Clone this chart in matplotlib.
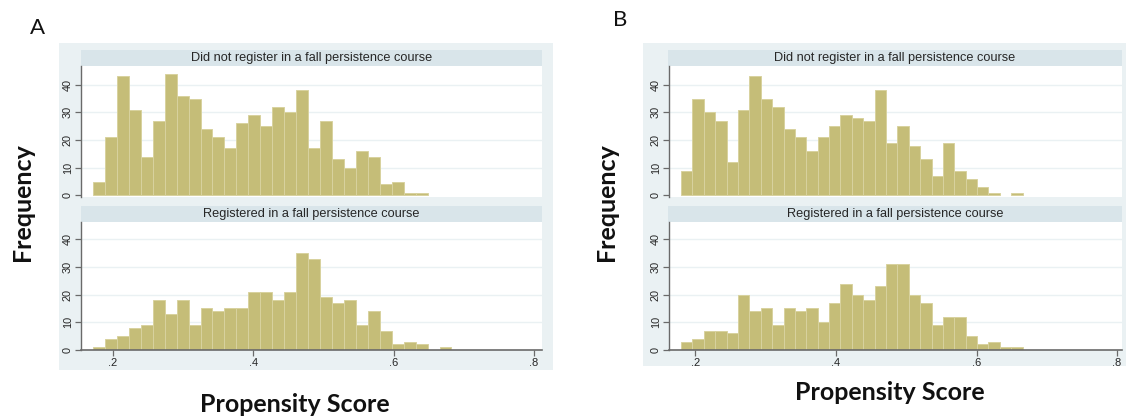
import numpy as np
import matplotlib
matplotlib.use("Agg")
import matplotlib.pyplot as plt
from matplotlib.patches import Rectangle

# ---------------- data ----------------
panel_labels = ["A", "B"]
group_labels = ["Did not register in a fall persistence course",
                "Registered in a fall persistence course"]
x_ticks = [0.2, 0.4, 0.6, 0.8]
x_tick_labels = [".2", ".4", ".6", ".8"]
y_ticks = [0, 10, 20, 30, 40]
y_tick_labels = ["0", "10", "20", "30", "40"]

# Panel A histogram (bin start, bin width, counts)
bin_start_a = 0.1715
bin_width_a = 0.01703
counts_a_not = [5, 21, 43, 31, 14, 27, 44, 36, 35, 24, 21, 17, 26, 29, 25,
                32, 30, 38, 17, 27, 13, 10, 16, 14, 4, 5, 1, 1, 0, 0]
counts_a_reg = [1, 4, 5, 8, 9, 18, 13, 18, 9, 15, 14, 15, 15, 21, 21,
                18, 21, 35, 33, 19, 17, 18, 9, 14, 7, 2, 3, 2, 0, 1]

# Panel B histogram
bin_start_b = 0.1794
bin_width_b = 0.01621
counts_b_not = [9, 35, 30, 27, 12, 31, 43, 35, 32, 24, 21, 16, 21, 25, 29,
                28, 27, 38, 19, 25, 18, 13, 7, 19, 9, 6, 3, 1, 0, 1]
counts_b_reg = [3, 4, 7, 7, 6, 20, 14, 15, 9, 15, 14, 15, 10, 17, 24,
                20, 18, 23, 31, 31, 20, 17, 9, 12, 12, 5, 2, 3, 1, 1]

x_label = "Propensity Score"
y_label = "Frequency"

# ---------------- style ----------------
W, H = 1126, 417
fig = plt.figure(figsize=(W / 100, H / 100), dpi=100)
fig.patch.set_facecolor("white")

BG = "#EAF1F3"
STRIP = "#D9E5EA"
BAR = "#C5BD78"
BAR_EDGE = "#D8D29F"
AXC = "#6a6a6a"
TXT = "#262626"
GRID = "#EAF1F3"


def rect(x0, x1, ytop, ybot):
    return [x0 / W, 1 - ybot / H, (x1 - x0) / W, (ybot - ytop) / H]


def bg_patch(x0, x1, ytop, ybot, color):
    fig.add_artist(Rectangle((x0 / W, 1 - ybot / H), (x1 - x0) / W,
                             (ybot - ytop) / H, transform=fig.transFigure,
                             facecolor=color, edgecolor="none", zorder=0))


def strip(x0, x1, ytop, ybot, text):
    bg_patch(x0, x1, ytop, ybot, STRIP)
    fig.text((x0 + x1) / 2 / W, 1 - (ytop + ybot) / 2 / H, text,
             ha="center", va="center", fontsize=9.2, color=TXT,
             family="Liberation Sans")


def hist_axes(r, xlim, ylim, start, width, counts, bottom_axis):
    ax = fig.add_axes(r)
    ax.set_facecolor("white")
    edges = start + width * np.arange(len(counts) + 1)
    ec = [BAR_EDGE if c > 0 else "none" for c in counts]
    ax.bar(edges[:-1], counts, width=width, align="edge", color=BAR,
           edgecolor=ec, linewidth=0.7, zorder=2)
    ax.set_xlim(*xlim)
    ax.set_ylim(*ylim)
    ax.set_yticks(y_ticks)
    ax.set_yticklabels(y_tick_labels, rotation=90, va="center",
                       fontsize=7.8, color=TXT, family="Liberation Sans")
    for yv in y_ticks[1:]:
        ax.axhline(yv, color=GRID, lw=1.0, zorder=1)
    for s in ["top", "right"]:
        ax.spines[s].set_visible(False)
    ax.spines["left"].set_color(AXC)
    ax.spines["left"].set_linewidth(1.0)
    ax.tick_params(axis="y", length=4, width=0.9, color=AXC, pad=2)
    if bottom_axis:
        ax.spines["bottom"].set_color(AXC)
        ax.spines["bottom"].set_linewidth(1.2)
        ax.set_xticks(x_ticks)
        ax.set_xticklabels(x_tick_labels, fontsize=8, color=TXT,
                           family="Liberation Sans")
        ax.tick_params(axis="x", length=4, width=0.9, color=AXC, pad=2)
    else:
        ax.spines["bottom"].set_visible(False)
        ax.set_xticks([])
    return ax


PX = 2.77  # pixels per count


def panel(bg, ax_x, strip_x, xlim, start, width, cnt_top, cnt_bot):
    bg_patch(*bg, BG)
    # top plot
    strip(strip_x[0], strip_x[1], 50, 66, group_labels[0])
    zero_top = 195.5
    hist_axes(rect(ax_x[0], ax_x[1], 66, 197), xlim,
              (-(197 - zero_top) / PX, (zero_top - 66) / PX),
              start, width, cnt_top, False)
    # bottom plot
    strip(strip_x[0], strip_x[1], 206, 222, group_labels[1])
    hist_axes(rect(ax_x[0], ax_x[1], 222, 350), xlim,
              (0, (350 - 222) / PX), start, width, cnt_bot, True)


# Panel A
panel((59, 553, 43, 370), (81, 542), (81, 542), (0.1544, 0.8114),
      bin_start_a, bin_width_a, counts_a_not, counts_a_reg)
# Panel B
panel((643, 1133, 43, 366), (669, 1122), (668, 1122), (0.1623, 0.8071),
      bin_start_b, bin_width_b, counts_b_not, counts_b_reg)

# Texts
fig.text(37 / W, 1 - 28 / H, panel_labels[0], ha="center", va="center",
         fontsize=16, family="Lato", color="#111")
fig.text(620 / W, 1 - 20 / H, panel_labels[1], ha="center", va="center",
         fontsize=16, family="Lato", color="#111")
for xc, yc in [(22, 202), (607, 202)]:
    fig.text(xc / W, 1 - yc / H, y_label, rotation=90, ha="center",
             va="center", fontsize=18, fontweight="bold", family="Lato",
             color="#111")
for xc, yc in [(295, 404), (890, 393)]:
    fig.text(xc / W, 1 - yc / H, x_label, ha="center", va="center",
             fontsize=18, fontweight="bold", family="Lato", color="#111")

fig.savefig("out.png", dpi=100, facecolor="white")
